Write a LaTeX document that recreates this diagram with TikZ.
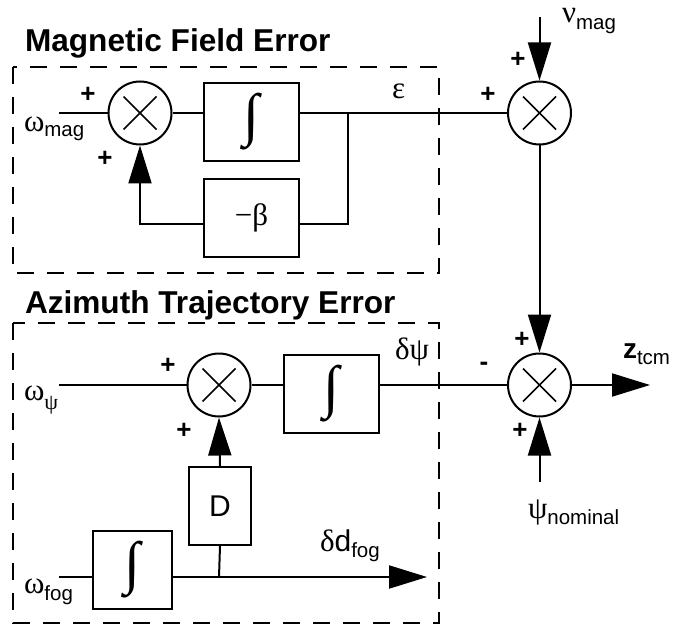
\documentclass[tikz,border=0pt]{standalone}
\usepackage{fontspec}
\setmainfont{Liberation Sans}
\newfontfamily\grfont{Liberation Serif}
\usetikzlibrary{arrows.meta}
\newcommand\gr[1]{{\grfont\fontsize{31}{33}\selectfont #1}}
\newcommand\sbs[2][6pt]{\raisebox{-#1}{\fontsize{20.5}{22}\selectfont #2}}
\newcommand\intg{\raisebox{0pt}{\grfont\fontsize{58}{58}\selectfont ∫}}
\begin{document}
\begin{tikzpicture}[x=1pt,y=-1pt,line width=2pt,
  sumnode/.style={circle,draw,minimum size=63pt,inner sep=0pt,
    path picture={
      \draw[line width=1.6pt] ([shift={(-16.5pt,-16.5pt)}]path picture bounding box.center) -- ([shift={(16.5pt,16.5pt)}]path picture bounding box.center);
      \draw[line width=1.6pt] ([shift={(-16.5pt,16.5pt)}]path picture bounding box.center) -- ([shift={(16.5pt,-16.5pt)}]path picture bounding box.center);}},
  blk/.style={rectangle,draw,inner sep=0pt,minimum height=78pt},
  arr/.style={-{Triangle[length=38pt,width=23pt]}},
  signlbl/.style={font=\bfseries\fontsize{26}{28}\selectfont,inner sep=0pt},
  lbl/.style={inner sep=0pt,anchor=base west},
  titlelbl/.style={font=\bfseries\fontsize{31.6}{34}\selectfont,inner sep=0pt,anchor=base west},
  dashframe/.style={dash pattern=on 17pt off 13pt,line width=2pt}
]
\path[use as bounding box] (0,0) rectangle (676,628);

% frames and titles
\draw[dashframe] (13,67) rectangle (439,273);
\draw[dashframe] (13,323) rectangle (439,623);
\node[titlelbl] (t1) at (24,52) {Magnetic Field Error};
\node[titlelbl] (t2) at (24,313) {Azimuth Trajectory Error};

% junctions
\node[sumnode] (s1) at (140,113) {};
\node[sumnode] (s2) at (539.5,113) {};
\node[sumnode] (s3) at (539.5,385) {};
\node[sumnode] (s4) at (219,385) {};

% blocks
\node[blk,minimum width=95pt] (int1) at (251.5,122) {\intg};
\node[blk,minimum width=95pt] (beta) at (251.5,218) {\gr{−β}};
\node[blk,minimum width=95pt] (int2) at (331.5,394) {\intg};
\node[blk,minimum width=62pt,font=\fontsize{30}{32}\selectfont] (D) at (220,506) {D};
\node[blk,minimum width=79pt] (int3) at (132.5,570) {\intg};

% free ends
\coordinate (inmag) at (59,113);
\coordinate (j1) at (348,113);
\coordinate (j2) at (348,224);
\coordinate (nu) at (539.5,17);
\coordinate (out) at (650,385);
\coordinate (psin) at (539.5,482);
\coordinate (inpsi) at (59,385);
\coordinate (infog) at (59,577);
\coordinate (j3) at (219,577);
\coordinate (dfog) at (427,577);

% magnetic loop
\draw (inmag) -- (s1.west);
\draw (s1.east) -- (s1.east -| int1.west);
\draw (int1.east |- s1) -- (s2.west);
\draw (j1) -- (j2) -- (j2 -| beta.east);
\draw[arr] (j2 -| beta.west) -- (s1 |- j2) -- (s1.south);
\draw[arr] (nu) -- (s2.north);
\draw[arr] (s2.south) -- (s3.north);
\draw[arr] (s3.east) -- (out);
\draw[arr] (psin) -- (s3.south);

% azimuth
\draw (inpsi) -- (s4.west);
\draw (s4.east) -- (s4.east -| int2.west);
\draw (int2.east |- s4) -- (s3.west);
\draw[arr] (D.north) -- (s4.south);
\draw (infog) -- (infog -| int3.west);
\draw[arr] (int3.east |- infog) -- (dfog);
\draw (j3) -- (D.south);

% signs
\node[signlbl] (p1) at (88,95) {+};
\node[signlbl] (p2) at (105,159) {+};
\node[signlbl] (p3) at (488,95) {+};
\node[signlbl] (p4) at (518,60) {+};
\node[signlbl] (p5) at (522,340) {+};
\node[signlbl] (m1) at (484,366) {-};
\node[signlbl] (p6) at (520,431) {+};
\node[signlbl] (p7) at (168,366) {+};
\node[signlbl] (p8) at (184,431) {+};

% labels
\node[lbl] (lomag) at (23,132) {\gr{ω}\sbs[5pt]{mag}};
\node[lbl] (lnu) at (561,23) {\gr{ν}\sbs[7pt]{mag}};
\node[lbl] (leps) at (391,99) {\gr{ε}};
\node[lbl] (ldpsi) at (394,359) {\gr{δψ}};
\node[lbl] (lopsi) at (23,400) {\gr{ω}\raisebox{-9pt}{\grfont\fontsize{22}{23}\selectfont ψ}};
\node[lbl] (lofog) at (23,593) {\gr{ω}\sbs[7pt]{fog}};
\node[lbl] (lddfog) at (319,551) {\gr{δ}{\fontsize{30}{32}\selectfont d}\sbs[6pt]{fog}};
\node[lbl] (lpsin) at (527,518) {\gr{ψ}\sbs[6pt]{nominal}};
\node[lbl] (lz) at (622,358) {{\bfseries\fontsize{28}{30}\selectfont z}\sbs[6pt]{tcm}};
\end{tikzpicture}
\end{document}
